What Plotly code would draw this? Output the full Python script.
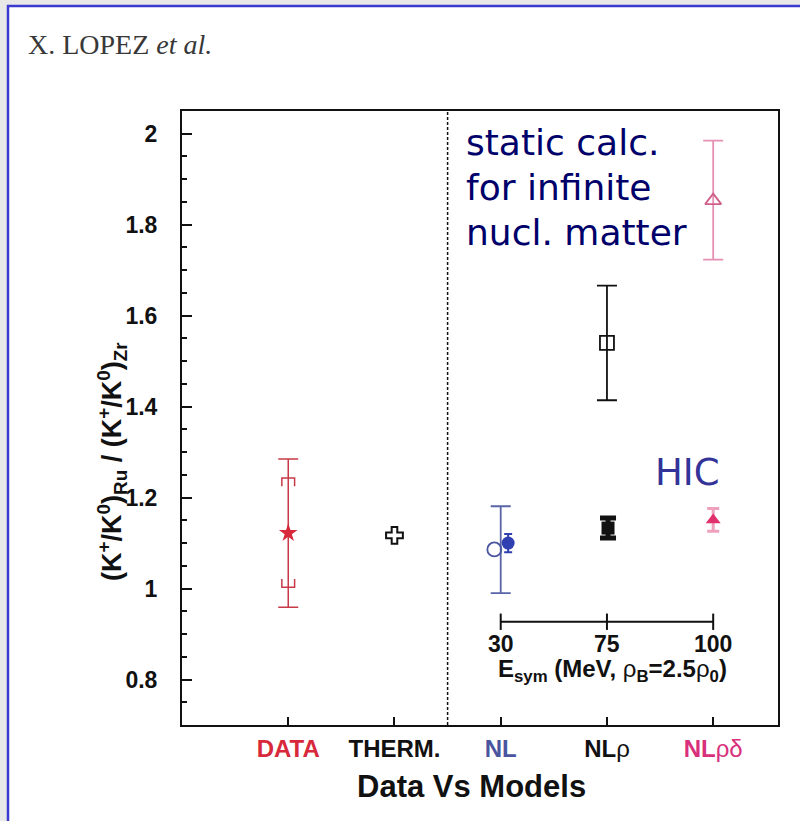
import plotly.graph_objects as go

# ---------------- data ----------------
categories = ["DATA", "THERM.", "NL", "NLρ", "NLρδ"]
category_colors = ["#d8283c", "#111111", "#4a55a0", "#111111", "#d8307a"]

data_value = [1.122]
data_err = [0.163]
data_sys_hi = [1.243]
data_sys_lo = [1.003]

therm_value = [1.117]

static_value = [1.086, 1.540, 1.853]
static_err_plus = [0.095, 0.126, 0.132]
static_err_minus = [0.096, 0.126, 0.130]

hic_value = [1.100, 1.133, 1.151]
hic_err = [0.020, 0.022, 0.025]

esym_ticks = [30, 75, 100]
esym_axis_y = 0.927

y_tickvals = [0.8, 1.0, 1.2, 1.4, 1.6, 1.8, 2.0]
y_ticktext = ["0.8", "1", "1.2", "1.4", "1.6", "1.8", "2"]

# ---------------- style constants ----------------
model_x = [2, 3, 4]
static_dx = [-0.06, 0.0, 0.0]
hic_dx = [0.07, 0.01, 0.0]
static_colors = ["#4a55a0", "#111111", "#d0608a"]
static_err_colors = ["#5a65a8", "#111111", "#e590b2"]
static_symbols = ["circle-open", "square-open", "triangle-up-open"]
hic_colors = ["#3040b0", "#111111", "#e0306e"]
hic_err_colors = ["#3040b0", "#111111", "#eea0bc"]
hic_symbols = ["circle", "square", "triangle-up"]
hic_err_width = [4, 8, 6]
hic_err_thick = [2, 5, 3]

SANS = "Liberation Sans"

fig = go.Figure()

# DATA: stat error + star
fig.add_trace(go.Scatter(
    x=[0], y=data_value, mode="markers",
    marker=dict(symbol="star", size=14, color="#d8283c"),
    error_y=dict(type="data", array=data_err, symmetric=True,
                 color="#c83a48", thickness=1.5, width=10),
    showlegend=False))

# DATA: systematic brackets
bw, bl = 0.06, 0.018
for hi, lo in zip(data_sys_hi, data_sys_lo):
    fig.add_trace(go.Scatter(
        x=[-bw, -bw, bw, bw], y=[hi - bl, hi, hi, hi - bl], mode="lines",
        line=dict(color="#c83a48", width=1.5), showlegend=False, hoverinfo="skip"))
    fig.add_trace(go.Scatter(
        x=[-bw, -bw, bw, bw], y=[lo + bl, lo, lo, lo + bl], mode="lines",
        line=dict(color="#c83a48", width=1.5), showlegend=False, hoverinfo="skip"))

# THERM.
fig.add_trace(go.Scatter(
    x=[1], y=therm_value, mode="markers",
    marker=dict(symbol="cross-open", size=14, color="#111111", line=dict(width=2)),
    showlegend=False))

# static calculations (error bars at the category, markers possibly offset)
for i in range(3):
    fig.add_trace(go.Scatter(
        x=[model_x[i]], y=[static_value[i]], mode="markers",
        marker=dict(size=1, color="rgba(0,0,0,0)"),
        error_y=dict(type="data", array=[static_err_plus[i]],
                     arrayminus=[static_err_minus[i]], symmetric=False,
                     color=static_err_colors[i], thickness=1.8, width=10),
        showlegend=False, hoverinfo="skip"))
    fig.add_trace(go.Scatter(
        x=[model_x[i] + static_dx[i]], y=[static_value[i]], mode="markers",
        marker=dict(symbol=static_symbols[i], size=14, color=static_colors[i],
                    line=dict(width=1.8, color=static_colors[i])),
        showlegend=False))

# HIC calculations
for i in range(3):
    fig.add_trace(go.Scatter(
        x=[model_x[i] + hic_dx[i]], y=[hic_value[i]], mode="markers",
        marker=dict(symbol=hic_symbols[i], size=13, color=hic_colors[i]),
        error_y=dict(type="data", array=[hic_err[i]], symmetric=True,
                     color=hic_err_colors[i], thickness=hic_err_thick[i],
                     width=hic_err_width[i]),
        showlegend=False))

# inset E_sym axis
fig.add_trace(go.Scatter(
    x=[model_x[0], model_x[-1]], y=[esym_axis_y, esym_axis_y], mode="lines",
    line=dict(color="#111111", width=2), showlegend=False, hoverinfo="skip"))
tl = 0.018
for xv in model_x:
    fig.add_trace(go.Scatter(
        x=[xv, xv], y=[esym_axis_y - tl, esym_axis_y + tl], mode="lines",
        line=dict(color="#111111", width=2), showlegend=False, hoverinfo="skip"))

annotations = []
for xv, t in zip(model_x, esym_ticks):
    annotations.append(dict(x=xv, y=esym_axis_y, xref="x", yref="y", yshift=-22,
                            text=f"<b>{t}</b>", showarrow=False,
                            font=dict(family=SANS, size=23, color="#111111")))
annotations.append(dict(x=3.05, y=esym_axis_y, xref="x", yref="y", yshift=-49,
                        text="<b>E<sub>sym</sub> (MeV, </b>ρ<sub><b>B</b></sub><b>=2.5</b>ρ<sub><b>0</b></sub><b>)</b>",
                        showarrow=False,
                        font=dict(family=SANS, size=24, color="#111111")))

# page geometry helpers (pixels -> paper)
L, R, T, B = 182, 778, 111, 725
W, H = R - L, B - T
px = lambda v: (v - L) / W
py = lambda v: (B - v) / H

# header
annotations.append(dict(x=px(26), y=py(45), xref="paper", yref="paper", xanchor="left",
                        yanchor="middle", showarrow=False,
                        text="X. LOPEZ <i>et al.</i>",
                        font=dict(family="Liberation Serif", size=28, color="#383838")))
# y title
annotations.append(dict(x=px(112), y=py(462), xref="paper", yref="paper", textangle=-90,
                        xanchor="center", yanchor="middle", showarrow=False,
                        text="<b>(K<sup>+</sup>/K<sup>0</sup>)<sub>Ru</sub> / (K<sup>+</sup>/K<sup>0</sup>)<sub>Zr</sub></b>",
                        font=dict(family=SANS, size=27, color="#111111")))
# x title
annotations.append(dict(x=px(471), y=py(786), xref="paper", yref="paper",
                        xanchor="center", yanchor="middle", showarrow=False,
                        text="<b>Data Vs Models</b>",
                        font=dict(family=SANS, size=31, color="#111111")))
# overlay texts
for txt, cy in [("static calc.", 142), ("for infinite", 188), ("nucl. matter", 232)]:
    annotations.append(dict(x=px(464), y=py(cy), xref="paper", yref="paper",
                            xanchor="left", yanchor="middle", showarrow=False, text=txt,
                            font=dict(family="DejaVu Sans", size=36, color="#00006a")))
annotations.append(dict(x=px(653), y=py(472), xref="paper", yref="paper",
                        xanchor="left", yanchor="middle", showarrow=False, text="HIC",
                        font=dict(family="DejaVu Sans", size=37, color="#333399")))

ticktext = []
for c, col in zip(categories, category_colors):
    if c.startswith("NL") and len(c) > 2:
        ticktext.append(f'<span style="color:{col}"><b>NL</b>{c[2:]}</span>')
    else:
        ticktext.append(f'<span style="color:{col}"><b>{c}</b></span>')

shapes = [
    # page frame
    dict(type="rect", xref="paper", yref="paper", x0=px(8), x1=px(812), y0=py(830), y1=py(6),
         line=dict(color="#3a3ad0", width=2.5), fillcolor="white", layer="below"),
    # dashed separator
    dict(type="line", xref="x", yref="paper", x0=1.5, x1=1.5, y0=0, y1=1,
         line=dict(color="#111111", width=1.5, dash="3px,2px")),
]

fig.update_layout(
    width=800, height=821,
    margin=dict(l=L, r=800 - R, t=T, b=821 - B),
    paper_bgcolor="#e8e8e8", plot_bgcolor="rgba(0,0,0,0)",
    showlegend=False,
    annotations=annotations, shapes=shapes,
    xaxis=dict(range=[-1, 4.61], tickmode="array", tickvals=list(range(5)), ticktext=ticktext,
               ticks="inside", ticklen=8, tickwidth=2, tickcolor="#111111",
               showline=True, linecolor="#111111", linewidth=2, mirror=True,
               showgrid=False, zeroline=False, ticklabelstandoff=1,
               tickfont=dict(family=SANS, size=24, color="#111111")),
    yaxis=dict(range=[0.7, 2.05], tickmode="array", tickvals=y_tickvals,
               ticktext=[f"<b>{t}</b>" for t in y_ticktext],
               ticks="inside", ticklen=10, tickwidth=2, tickcolor="#111111",
               minor=dict(ticks="inside", ticklen=5, tickwidth=1.5, tickcolor="#111111",
                          dtick=0.05, tick0=0, showgrid=False),
               showline=True, linecolor="#111111", linewidth=2, mirror=True,
               showgrid=False, zeroline=False, ticklabelstandoff=18,
               tickfont=dict(family=SANS, size=23, color="#111111")),
)

fig.write_html("out.html")
